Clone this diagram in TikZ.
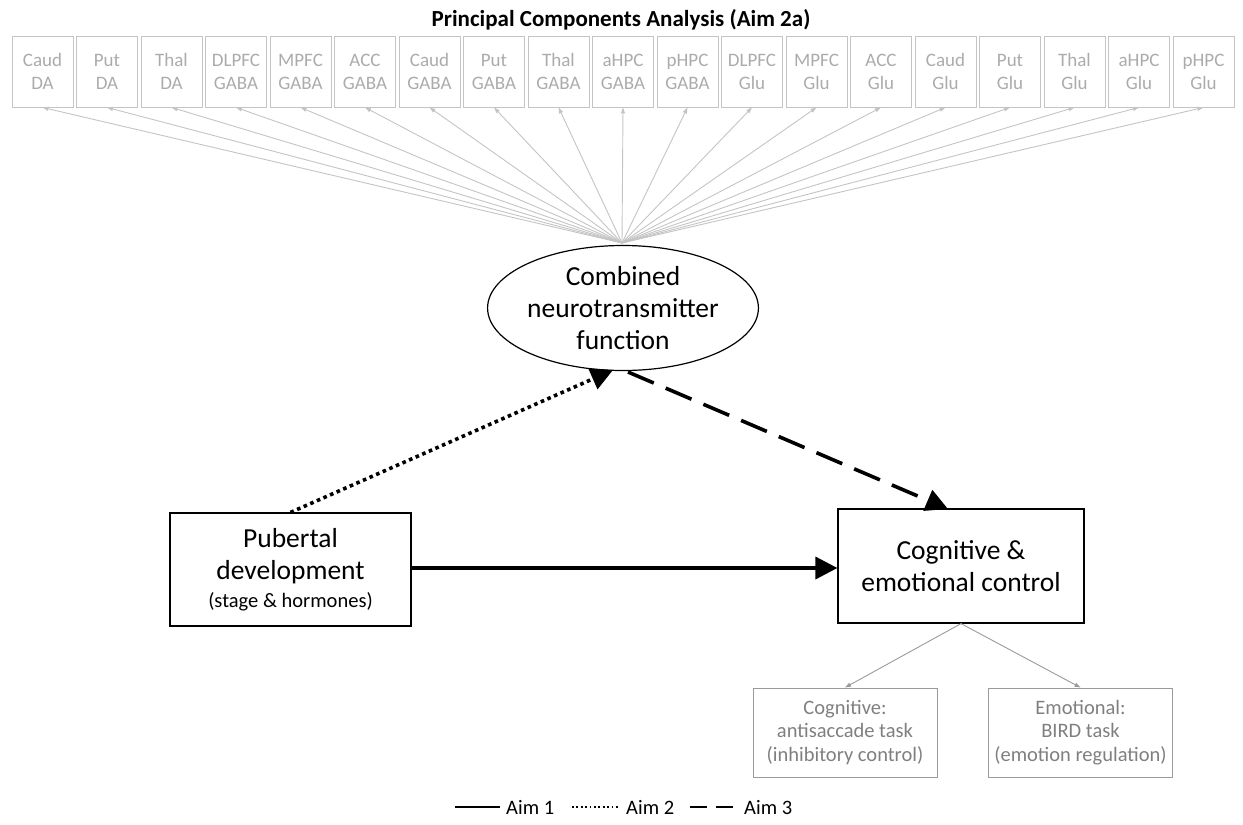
\documentclass[tikz,border=0pt]{standalone}
\usepackage{fontspec}
\setmainfont{Carlito}
\usetikzlibrary{shapes.geometric,arrows.meta}
\definecolor{lgray}{HTML}{C4C4C4}
\definecolor{ltext}{HTML}{ABABAB}
\definecolor{mgray}{HTML}{9A9A9A}
\definecolor{mtext}{HTML}{7F7F7F}
\begin{document}
\begin{tikzpicture}[x=1pt,y=-1pt,
  pcabox/.style={draw=lgray,line width=0.9pt,minimum width=61pt,minimum height=71pt,inner sep=0pt,align=center,text=ltext,font=\fontsize{19}{23}\selectfont},
  taskbox/.style={draw=mgray,line width=0.9pt,minimum width=184pt,minimum height=89pt,inner sep=0pt,align=center,text=mtext,font=\fontsize{20.5}{23.5}\selectfont},
  mainbox/.style={draw=black,line width=1.2pt,inner sep=0pt,align=center,font=\fontsize{27.5}{32}\selectfont},
  pcaarrow/.style={draw=lgray,line width=0.9pt,-{Triangle[length=6pt,width=4pt]}},
  taskarrow/.style={draw=mgray,line width=0.9pt,-{Triangle[length=6pt,width=4pt]}},
  bigtip/.style={-{Triangle[length=22pt,width=22pt]}},
  legtext/.style={font=\fontsize{20.5}{24}\selectfont,anchor=base west,inner sep=0pt}
]
\useasboundingbox (0,0) rectangle (1243,825);
\node[font=\bfseries\fontsize{23}{27}\selectfont] (title) at (621,20) {Principal Components Analysis (Aim 2a)};
\foreach \t [count=\i from 0] in {Caud\\DA,Put\\DA,Thal\\DA,DLPFC\\GABA,MPFC\\GABA,ACC\\GABA,Caud\\GABA,Put\\GABA,Thal\\GABA,aHPC\\GABA,pHPC\\GABA,DLPFC\\Glu,MPFC\\Glu,ACC\\Glu,Caud\\Glu,Put\\Glu,Thal\\Glu,aHPC\\Glu,pHPC\\Glu}{
  \node[pcabox] (b\i) at ({42.5+64.5*\i},71.5) {\t};
}
\node[draw=black,line width=1.2pt,ellipse,minimum width=247pt,minimum height=125pt,inner sep=0pt,align=center,font=\fontsize{27.5}{32}\selectfont] (nt) at (623,308) {Combined\\neurotransmitter\\function};
\coordinate (hub) at (622,243);
\foreach \i in {0,...,18}{
  \draw[pcaarrow] (hub) -- (b\i.south);
}
\node[mainbox,minimum width=241pt,minimum height=113pt] (pub) at (290.5,569.5) {Pubertal\\development\\[-4pt]{\fontsize{20.5}{24}\selectfont(stage \& hormones)}};
\node[mainbox,minimum width=246pt,minimum height=114pt] (cog) at (961,566) {Cognitive \&\\emotional control};
\node[taskbox] (t1) at (845,732.5) {Cognitive:\\antisaccade task\\(inhibitory control)};
\node[taskbox] (t2) at (1080.5,732.5) {Emotional:\\BIRD task\\(emotion regulation)};
\draw[line width=3.6pt,bigtip] (pub.east |- 0,568) -- (cog.west |- 0,568);
\draw[line width=3.6pt,dash pattern=on 3.6pt off 3.6pt,bigtip] (pub.north) -- (613,370);
\draw[line width=3.6pt,dash pattern=on 28pt off 13pt,bigtip] (628,372) -- (948,509);
\draw[taskarrow] (cog.south) -- (t1.north);
\draw[taskarrow] (cog.south) -- (t2.north);
% legend
\coordinate (l1a) at (455,807); \coordinate (l1b) at (500,807);
\coordinate (l2a) at (572,807); \coordinate (l2b) at (620,807);
\coordinate (l3a) at (690,807); \coordinate (l3b) at (734,807);
\draw[line width=1.8pt] (l1a) -- (l1b);
\draw[line width=1.8pt,dash pattern=on 1.8pt off 2.6pt] (l2a) -- (l2b);
\draw[line width=1.8pt,dash pattern=on 17pt off 9pt] (l3a) -- (l3b);
\node[legtext] (a1) at (506,814) {Aim 1};
\node[legtext] (a2) at (626,814) {Aim 2};
\node[legtext] (a3) at (744,814) {Aim 3};
\end{tikzpicture}
\end{document}
